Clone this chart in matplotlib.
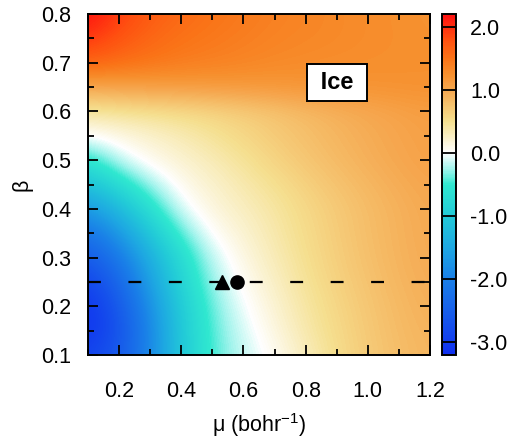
import numpy as np
import matplotlib
matplotlib.use("Agg")
import matplotlib.pyplot as plt
from matplotlib.colors import LinearSegmentedColormap, Normalize

plt.rcParams['font.family'] = ['Liberation Sans', 'DejaVu Sans']
plt.rcParams['axes.unicode_minus'] = False
plt.rcParams['mathtext.default'] = 'regular'

# grid of the field
mu = [0.1, 0.2, 0.3, 0.4, 0.5, 0.6, 0.7, 0.8, 0.9, 1.0, 1.1, 1.2]
beta = [0.1, 0.15, 0.2, 0.25, 0.3, 0.35, 0.4, 0.45, 0.5, 0.55, 0.6, 0.65, 0.7, 0.75, 0.8]
field = [
    [-2.9, -2.6, -1.9, -1.0, -0.42, -0.15, 0.05, 0.30, 0.52, 0.68, 0.80, 0.88],
    [-3.1, -2.7, -1.9, -1.0, -0.40, -0.10, 0.14, 0.37, 0.55, 0.70, 0.82, 0.90],
    [-3.1, -2.6, -1.8, -0.95, -0.35, -0.03, 0.20, 0.41, 0.58, 0.72, 0.84, 0.93],
    [-2.9, -2.4, -1.6, -0.82, -0.25, 0.05, 0.26, 0.46, 0.62, 0.75, 0.87, 0.95],
    [-2.6, -2.1, -1.4, -0.70, -0.15, 0.13, 0.32, 0.50, 0.65, 0.78, 0.89, 0.97],
    [-2.2, -1.7, -1.05, -0.40, 0.03, 0.20, 0.37, 0.53, 0.67, 0.80, 0.90, 0.98],
    [-1.7, -1.25, -0.65, -0.08, 0.15, 0.28, 0.41, 0.56, 0.69, 0.81, 0.91, 0.99],
    [-1.15, -0.70, -0.25, 0.08, 0.22, 0.36, 0.49, 0.63, 0.75, 0.86, 0.95, 1.02],
    [-0.60, -0.15, 0.08, 0.20, 0.32, 0.46, 0.60, 0.72, 0.83, 0.92, 1.00, 1.06],
    [0.00, 0.12, 0.22, 0.33, 0.45, 0.57, 0.68, 0.78, 0.87, 0.95, 1.02, 1.07],
    [0.42, 0.46, 0.50, 0.54, 0.60, 0.67, 0.75, 0.84, 0.92, 0.99, 1.05, 1.10],
    [1.00, 1.05, 1.08, 1.10, 1.12, 1.14, 1.16, 1.18, 1.20, 1.21, 1.22, 1.23],
    [1.65, 1.55, 1.48, 1.42, 1.38, 1.34, 1.30, 1.28, 1.26, 1.25, 1.24, 1.23],
    [1.95, 1.75, 1.60, 1.50, 1.45, 1.40, 1.35, 1.32, 1.30, 1.27, 1.25, 1.23],
    [2.20, 1.90, 1.70, 1.58, 1.50, 1.44, 1.38, 1.34, 1.30, 1.27, 1.24, 1.22],
]
line_beta = 0.25
tri_mu = 0.53
circ_mu = 0.58
cbar_ticks = [-3.0, -2.0, -1.0, 0.0, 1.0, 2.0]
vmin, vmax = -3.2, 2.2

nodes = [(-3.2, '#1030f0'), (-2.5, '#1860ea'), (-2.0, '#1a80e8'), (-1.5, '#1ea8e2'),
         (-1.0, '#22cad8'), (-0.5, '#30e8d0'), (-0.25, '#a0f4ec'), (0.0, '#ffffff'),
         (0.25, '#faf0c8'), (0.5, '#f5e090'), (0.75, '#f5c470'), (1.0, '#f6a850'),
         (1.25, '#f7902e'), (1.5, '#fa7418'), (1.8, '#ff5010'), (2.2, '#ff1010')]
cmap = LinearSegmentedColormap.from_list(
    'gp', [((v - vmin) / (vmax - vmin), c) for v, c in nodes])

fig = plt.figure(figsize=(5.12, 4.42), dpi=100)
ax = fig.add_axes([88/512, 1 - 355/442, 342/512, 341/442])
cax = fig.add_axes([442/512, 1 - 355/442, 14/512, 341/442])

Z = np.array(field)
dm = mu[1] - mu[0]
db = beta[1] - beta[0]
im = ax.imshow(Z, origin='lower', aspect='auto', cmap=cmap,
               norm=Normalize(vmin, vmax), interpolation='bicubic',
               extent=[mu[0] - dm/2, mu[-1] + dm/2, beta[0] - db/2, beta[-1] + db/2])
ax.set_xlim(0.1, 1.2)
ax.set_ylim(0.1, 0.8)

ax.plot([0.1, 1.2], [line_beta, line_beta], color='black', lw=1.6,
        dashes=(5.8, 12.4), dash_capstyle='butt')
ax.plot([circ_mu], [line_beta], 'o', color='black', ms=9.5)
ax.plot([tri_mu], [line_beta], '^', color='black', ms=10.5)

ax.text(0.9, 0.66, ' Ice ', fontsize=17, fontweight='bold', ha='center', va='center',
        bbox=dict(boxstyle='square,pad=0.3', fc='white', ec='black', lw=1.4))

ax.set_xticks([0.2, 0.4, 0.6, 0.8, 1.0, 1.2])
ax.set_xticklabels(['0.2', '0.4', '0.6', '0.8', '1.0', '1.2'])
ax.set_xticks(np.arange(0.1, 1.21, 0.1), minor=True)
ax.set_yticks(np.arange(0.1, 0.81, 0.1))
ax.set_yticklabels(['%.1f' % v for v in np.arange(0.1, 0.81, 0.1)])
ax.set_yticks(np.arange(0.15, 0.8, 0.1), minor=True)
ax.tick_params(which='both', direction='in', top=True, right=True, width=1.3,
               labelsize=15.5)
ax.tick_params(which='major', length=7)
ax.tick_params(which='minor', length=4)
ax.tick_params(axis='y', which='major', pad=12)
ax.tick_params(axis='x', which='major', pad=19)
for s in ax.spines.values():
    s.set_linewidth(1.4)
ax.set_xlabel(r'μ (bohr$^{-1}$)', fontsize=15.5, labelpad=6)
ax.set_ylabel('β', fontsize=15.5, labelpad=6)

cb = fig.colorbar(im, cax=cax)
cb.set_ticks(cbar_ticks)
cb.set_ticklabels(['%.1f' % v for v in cbar_ticks])
cax.tick_params(direction='in', left=True, right=True, length=5, width=1.3,
                labelsize=15.5, pad=10)
cb.outline.set_linewidth(1.4)

fig.savefig('out.png', dpi=100)
